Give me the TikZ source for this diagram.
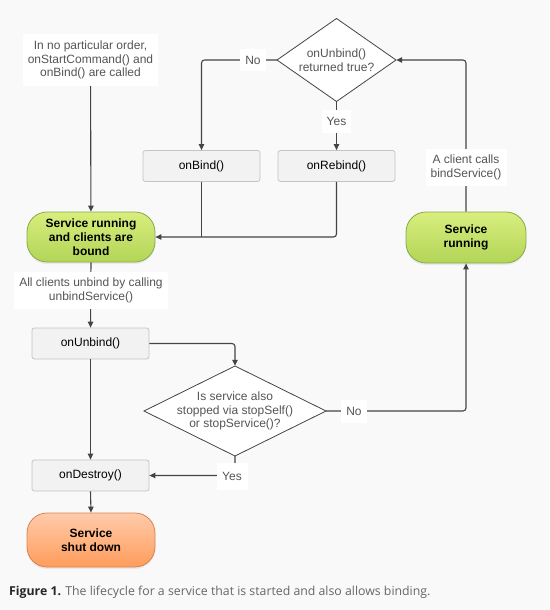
\documentclass[tikz,border=0pt]{standalone}
\usepackage{fontspec}
\setmainfont{Liberation Sans}
\newfontfamily\capfont{Open Sans}
\usepackage{tikz}
\usetikzlibrary{arrows.meta, calc, positioning, shadows}
\definecolor{bgcol}{HTML}{F9F9F9}
\definecolor{linecol}{HTML}{444444}
\definecolor{boxfill}{HTML}{F2F2F2}
\definecolor{boxline}{HTML}{C4C4C4}
\definecolor{labcol}{HTML}{555555}
\definecolor{greentop}{HTML}{D8EE7E}
\definecolor{greenbot}{HTML}{B2D557}
\definecolor{greenline}{HTML}{8AA94A}
\definecolor{orangetop}{HTML}{FFCBAA}
\definecolor{orangebot}{HTML}{FF9C5C}
\definecolor{orangeline}{HTML}{D98250}
\definecolor{captext}{HTML}{666666}

\begin{document}
\begin{tikzpicture}[x=1pt,y=-1pt,>={Triangle[length=6pt,width=5.5pt]},
	conn/.style={draw=linecol,line width=1.1pt,rounded corners=3pt},
	callbox/.style={draw=boxline,fill=boxfill,rounded corners=2.5pt,line width=0.8pt,
		minimum width=117pt,minimum height=31pt,inner sep=0pt,text=black,
		font=\fontsize{12}{13.5}\selectfont},
	note/.style={fill=white,inner sep=0pt,align=center,text=labcol,
		font=\fontsize{12}{13.5}\selectfont},
	pill/.style={rounded corners=20pt,line width=0.8pt,inner sep=0pt,align=center,
		font=\bfseries\fontsize{12}{14}\selectfont,text=black,
		drop shadow={opacity=0.12,shadow xshift=0pt,shadow yshift=-2pt}},
	greenpill/.style={pill,draw=greenline,top color=greentop,bottom color=greenbot},
	orangepill/.style={pill,draw=orangeline,top color=orangetop,bottom color=orangebot},
	question/.style={inner sep=0pt,align=center,text=labcol,
		font=\fontsize{12}{13.5}\selectfont},
	qedge/.style={draw=linecol,fill=white,line width=0.8pt}]
	\useasboundingbox[fill=bgcol] (0,0) rectangle (549,610);

	% left column
	\node[note,minimum width=135pt,minimum height=52pt] (order) at (90.5,60) {In no particular order,\\onStartCommand() and\\onBind() are called};
	\node[greenpill,minimum width=128pt,minimum height=50pt] (bound) at (91,237) {Service running\\and clients are\\bound};
	\node[callbox] (onunbind) at (90.5,343.5) {onUnbind()};
	\node[callbox] (ondestroy) at (90.5,475.5) {onDestroy()};
	\node[orangepill,minimum width=128pt,minimum height=54pt] (shutdown) at (91,540) {Service\\shut down};

	% rebinding
	\path[qedge] (336.5,18.5) -- (396,60) -- (336.5,101.5) -- (277,60) -- cycle;
	\node[question,minimum width=119pt,minimum height=83pt] (rettrue) at (336.5,60) {onUnbind()\\returned true?};
	\node[callbox] (onbind) at (201.5,166) {onBind()};
	\node[callbox] (onrebind) at (336.5,166) {onRebind()};
	\node[greenpill,minimum width=120pt,minimum height=51pt] (running) at (466,237.5) {Service\\running};

	% stopped or not
	\path[qedge] (235,366) -- (326,411) -- (235,456) -- (144,411) -- cycle;
	\node[question,minimum width=182pt,minimum height=90pt] (stopped) at (235,411) {Is service also\\stopped via stopSelf()\\or stopService()?};

	% connectors
	\draw[conn,->] (order) -- (bound);
	\draw[conn,->] (rettrue.west) -| (onbind.north);
	\draw[conn,->] (rettrue.south) -- (onrebind.north);
	\draw[conn] (onbind.south) -- (onbind.south |- bound.east);
	\draw[conn,->] (onrebind.south) |- (bound.east);
	\draw[conn,->] (running.north) |- (rettrue.east);
	\draw[conn,->] (bound.south) -- (onunbind.north);
	\draw[conn,->] (onunbind.east) -| (stopped.north);
	\draw[conn,->] (onunbind.south) -- (ondestroy.north);
	\draw[conn,->] (stopped.south) |- (ondestroy.east);
	\draw[conn,->] (stopped.east) -| (running.south);
	\draw[conn,->] (ondestroy.south) -- (shutdown.north);

	% labels on the connectors
	\node[note,minimum width=26pt,minimum height=22pt] (noret) at (253,60) {No};
	\node[note,minimum width=29pt,minimum height=23pt] (yesret) at (336.5,121) {Yes};
	\node[note,minimum width=81pt,minimum height=37pt] (bindcall) at (466,167.5) {A client calls\\bindService()};
	\node[note,minimum width=154pt,minimum height=37pt] (unbindcall) at (91,290.5) {All clients unbind by calling\\unbindService()};
	\node[note,minimum width=26pt,minimum height=23pt] (nostop) at (354,411) {No};
	\node[note,minimum width=31pt,minimum height=27pt] (yesstop) at (232,476.5) {Yes};

	% caption
	\node[anchor=west,inner sep=0pt,font=\capfont\fontsize{12.3}{14}\selectfont,text=captext] (caption) at (9,592)
		{\textbf{\color{black!85}Figure 1.} The lifecycle for a service that is started and also allows binding.};
\end{tikzpicture}
\end{document}
